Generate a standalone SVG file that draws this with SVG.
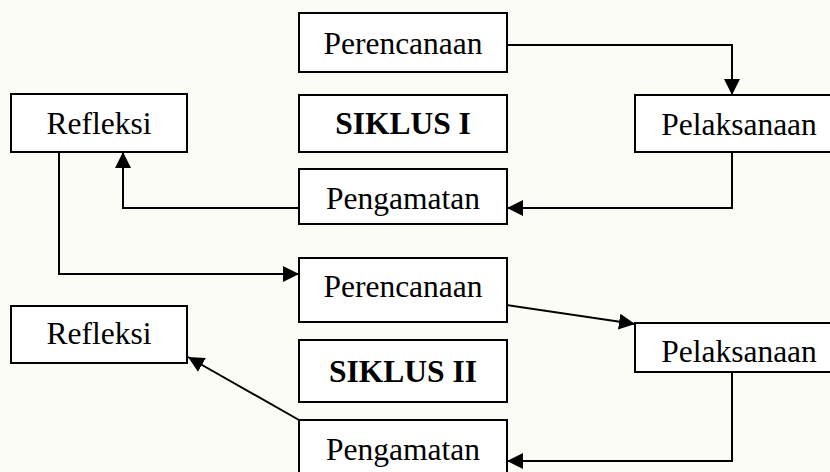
<svg xmlns="http://www.w3.org/2000/svg" width="830" height="472" viewBox="0 0 830 472">
  <style>
    .box { fill: #ffffff; stroke: #000000; stroke-width: 2; }
    .lbl { font-family: "Liberation Serif", "Times New Roman", serif; font-size: 31.5px; fill: #000000; text-anchor: middle; }
    .bold { font-weight: bold; }
    .conn { fill: none; stroke: #000000; stroke-width: 2; }
  </style>
  <defs>
    <marker id="arrow" markerUnits="userSpaceOnUse" markerWidth="17" markerHeight="16" refX="16" refY="8" orient="auto">
      <path d="M0,0 L16,8 L0,16 Z" fill="#000000"/>
    </marker>
  </defs>
  <rect x="0" y="0" width="830" height="472" fill="#fcfcf7"/>

  <g id="perencanaan1">
    <rect class="box" x="299" y="13" width="208" height="59"/>
    <text class="lbl" x="403" y="54">Perencanaan</text>
  </g>
  <g id="refleksi1">
    <rect class="box" x="11" y="94" width="176" height="58"/>
    <text class="lbl" x="99" y="134">Refleksi</text>
  </g>
  <g id="siklus1">
    <rect class="box" x="299" y="95" width="208" height="57"/>
    <text class="lbl bold" x="403" y="134">SIKLUS I</text>
  </g>
  <g id="pelaksanaan1">
    <rect class="box" x="635" y="95" width="208" height="57"/>
    <text class="lbl" x="739" y="135">Pelaksanaan</text>
  </g>
  <g id="pengamatan1">
    <rect class="box" x="299" y="169" width="208" height="55"/>
    <text class="lbl" x="403" y="209">Pengamatan</text>
  </g>
  <g id="perencanaan2">
    <rect class="box" x="299" y="258" width="208" height="64"/>
    <text class="lbl" x="403" y="297">Perencanaan</text>
  </g>
  <g id="refleksi2">
    <rect class="box" x="11" y="306" width="176" height="57"/>
    <text class="lbl" x="99" y="344">Refleksi</text>
  </g>
  <g id="siklus2">
    <rect class="box" x="299" y="340" width="208" height="62"/>
    <text class="lbl bold" x="403" y="382">SIKLUS II</text>
  </g>
  <g id="pelaksanaan2">
    <rect class="box" x="635" y="323" width="208" height="49"/>
    <text class="lbl" x="739" y="362">Pelaksanaan</text>
  </g>
  <g id="pengamatan2">
    <rect class="box" x="299" y="420" width="208" height="60"/>
    <text class="lbl" x="403" y="460">Pengamatan</text>
  </g>

  <g id="connectors">
    <polyline class="conn" points="507,45 732,45 732,95" marker-end="url(#arrow)"/>
    <polyline class="conn" points="732,152 732,208 507,208" marker-end="url(#arrow)"/>
    <polyline class="conn" points="299,208 123,208 123,152" marker-end="url(#arrow)"/>
    <polyline class="conn" points="59,152 59,274 299,274" marker-end="url(#arrow)"/>
    <line class="conn" x1="507" y1="305" x2="635" y2="324" marker-end="url(#arrow)"/>
    <polyline class="conn" points="732,372 732,461 507,461" marker-end="url(#arrow)"/>
    <line class="conn" x1="299" y1="420" x2="188" y2="357" marker-end="url(#arrow)"/>
  </g>
</svg>
